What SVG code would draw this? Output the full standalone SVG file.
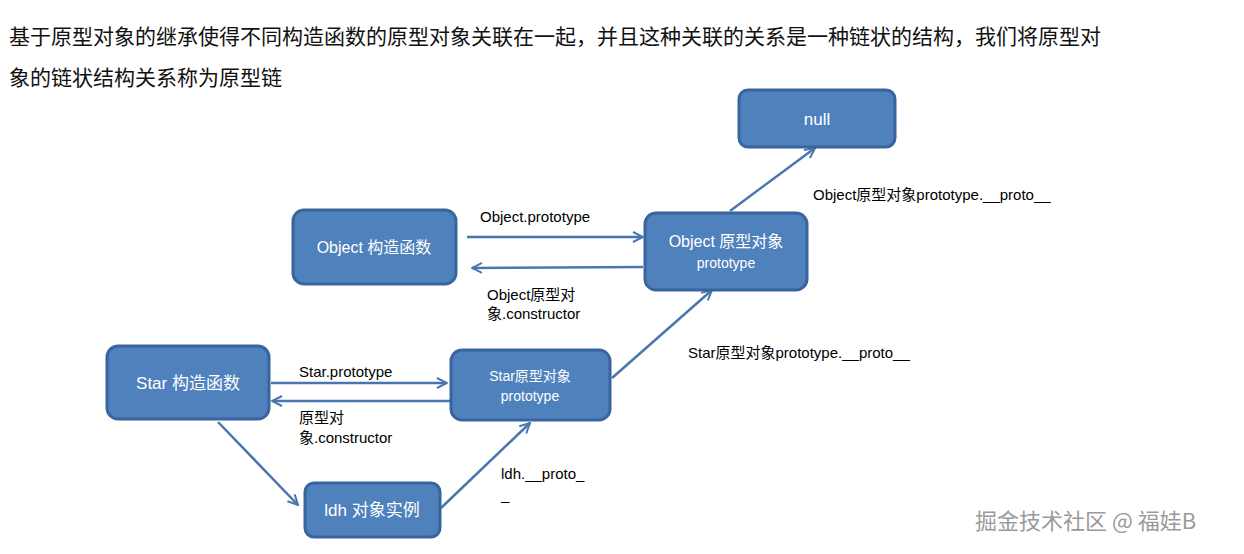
<svg xmlns="http://www.w3.org/2000/svg" width="1244" height="554" viewBox="0 0 1244 554">
<style>
.box{fill:#4f81bd;stroke:#3a64a0;stroke-width:3}
.bt{fill:#fff;font-family:"Liberation Sans","Noto Sans CJK SC",sans-serif;text-anchor:middle}
.lb{fill:#000;font-family:"Liberation Sans","Noto Sans CJK SC",sans-serif;font-size:15px}
.hd{fill:#111;font-family:"Noto Sans CJK SC",sans-serif;font-size:21px}
.c{stroke:#4a76b0;stroke-width:2.5;fill:none;marker-end:url(#a)}
</style>
<defs>
<marker id="a" viewBox="0 0 12 12" refX="11" refY="6" markerWidth="12" markerHeight="12" markerUnits="userSpaceOnUse" orient="auto">
<path d="M1,1 L11,6 L1,11" fill="none" stroke="#4a76b0" stroke-width="2"/>
</marker>
</defs>
<rect width="1244" height="554" fill="#fff"/>
<text class="hd" x="9" y="44">基于原型对象的继承使得不同构造函数的原型对象关联在一起，并且这种关联的关系是一种链状的结构，我们将原型对</text>
<text class="hd" x="9" y="85">象的链状结构关系称为原型链</text>
<g id="connectors">
<line class="c" x1="467" y1="237" x2="643" y2="237"/>
<line class="c" x1="643" y1="267" x2="472" y2="268"/>
<line class="c" x1="730" y1="211" x2="815" y2="148"/>
<line class="c" x1="612" y1="378" x2="712" y2="290"/>
<line class="c" x1="271" y1="383" x2="447" y2="383"/>
<line class="c" x1="450" y1="401" x2="272" y2="401"/>
<line class="c" x1="218" y1="422" x2="298" y2="505"/>
<line class="c" x1="441" y1="508" x2="530" y2="423"/>
<text class="lb" x="480" y="222">Object.prototype</text>
<text class="lb" x="487" y="300">Object原型对</text>
<text class="lb" x="487" y="319">象.constructor</text>
<text class="lb" x="813" y="200">Object原型对象prototype.__proto__</text>
<text class="lb" x="688" y="358">Star原型对象prototype.__proto__</text>
<text class="lb" x="299" y="377">Star.prototype</text>
<text class="lb" x="299" y="423">原型对</text>
<text class="lb" x="299" y="443">象.constructor</text>
<text class="lb" x="501" y="479">ldh.__proto_</text>
<text class="lb" x="501" y="500">_</text>
</g>
<g id="null"><rect class="box" x="739" y="90" width="156" height="57" rx="9"/><text class="bt" x="817" y="125" font-size="17">null</text></g>
<g id="objctor"><rect class="box" x="293" y="210" width="163" height="74" rx="11"/><text class="bt" x="374" y="253" font-size="16">Object 构造函数</text></g>
<g id="objproto"><rect class="box" x="645" y="213" width="162" height="77" rx="11"/><text class="bt" x="726" y="247" font-size="16">Object 原型对象</text><text class="bt" x="726" y="268" font-size="14">prototype</text></g>
<g id="starctor"><rect class="box" x="107" y="346" width="162" height="73" rx="11"/><text class="bt" x="188" y="389" font-size="17">Star 构造函数</text></g>
<g id="starproto"><rect class="box" x="451" y="350" width="159" height="70" rx="11"/><text class="bt" x="530" y="381" font-size="14">Star原型对象</text><text class="bt" x="530" y="401" font-size="14">prototype</text></g>
<g id="ldh"><rect class="box" x="305" y="483" width="135" height="54" rx="9"/><text class="bt" x="372" y="516" font-size="17">ldh 对象实例</text></g>
<text x="975" y="529" fill="#9a9a9a" font-family="Noto Sans CJK SC,sans-serif" font-size="22">掘金技术社区 @ 福娃B</text>
</svg>
